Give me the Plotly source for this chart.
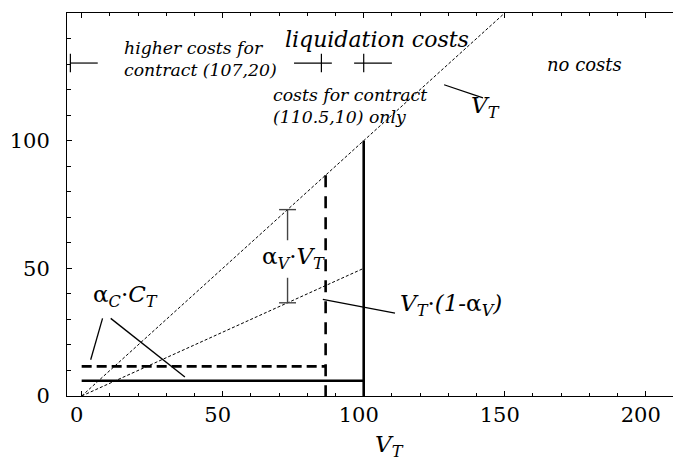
import plotly.graph_objects as go

# ---- data (value units) ----
vt_x = [0, 150]            # V_T line (45 degrees)
vt_y = [0, 150]
alpha_v = 0.5              # V_T*(1-alpha_V) line
lower_x = [0, 100]
lower_y = [x * (1 - alpha_v) for x in lower_x]

solid_threshold = 100      # contract (110.5,10)
solid_cost = 6
dashed_threshold = 86.5    # contract (107,20)
dashed_cost = 11.6

bracket_x = 73             # alpha_V * V_T bracket
bracket_gap = [61, 46.3]   # gap left for the label
cap_half = 3

region_y = 130.4
region_ticks = [-4, 85, 100]
region_segments = [(-4, 5.7), (75.3, 88.7), (96.6, 110)]

x_ticks = [0, 50, 100, 150, 200]
y_ticks = [0, 50, 100]

# leader lines (x0, y0, x1, y1)
leaders = [
    (128.5, 121.9, 142.3, 116.8),   # V_T
    (85.5, 37.8, 111.1, 32.5),      # V_T*(1-alpha_V)
    (7.4, 30.4, 3.2, 14.2),         # alpha_C*C_T -> dashed
    (10.3, 30.4, 36.6, 7.4),        # alpha_C*C_T -> solid
]

FONT = "DejaVu Serif"
fig = go.Figure()

dot = dict(color="black", width=1, dash="3px,2px")
fig.add_trace(go.Scatter(x=vt_x, y=vt_y, mode="lines", line=dot))
fig.add_trace(go.Scatter(x=lower_x, y=lower_y, mode="lines", line=dot))

# solid contract
fig.add_trace(go.Scatter(x=[0, solid_threshold], y=[solid_cost, solid_cost],
                         mode="lines", line=dict(color="black", width=2.6)))
fig.add_trace(go.Scatter(x=[solid_threshold, solid_threshold],
                         y=[0, solid_threshold], mode="lines",
                         line=dict(color="black", width=2.6)))
# dashed contract
fig.add_trace(go.Scatter(x=[0, dashed_threshold], y=[dashed_cost, dashed_cost],
                         mode="lines", line=dict(color="black", width=2.6, dash="10px,5px")))
fig.add_trace(go.Scatter(x=[dashed_threshold, dashed_threshold], y=[dashed_threshold, 0],
                         mode="lines", line=dict(color="black", width=2.6, dash="12px,9px")))

# bracket alpha_V * V_T
btop = bracket_x
bbot = bracket_x * (1 - alpha_v)
fig.add_trace(go.Scatter(
    x=[bracket_x, bracket_x, None, bracket_x, bracket_x, None,
       bracket_x - cap_half, bracket_x + cap_half, None,
       bracket_x - cap_half, bracket_x + cap_half],
    y=[btop, bracket_gap[0], None, bracket_gap[1], bbot, None,
       btop, btop, None, bbot, bbot],
    mode="lines", line=dict(color="#444", width=1.4)))

# region bar
rx, ry = [], []
for a, b in region_segments:
    rx += [a, b, None]
    ry += [region_y, region_y, None]
for t in region_ticks:
    rx += [t, t, None]
    ry += [region_y - 3.6, region_y + 3.6, None]
fig.add_trace(go.Scatter(x=rx, y=ry, mode="lines", line=dict(color="black", width=1.2)))

for x0, y0, x1, y1 in leaders:
    fig.add_shape(type="line", x0=x0, y0=y0, x1=x1, y1=y1, xref="x", yref="y",
                  line=dict(color="black", width=1.3))

def ann(text, x, y, size, xanchor="center", yanchor="middle", align="center", **kw):
    fig.add_annotation(text=text, x=x, y=y, showarrow=False, xanchor=xanchor,
                       yanchor=yanchor, align=align,
                       font=dict(family=FONT, size=size, color="black"), **kw)

ann("<i>higher costs for<br>contract (107,20)</i>", 14.4, 131.8, 17.3, xanchor="left", align="left")
ann("<i>liquidation costs</i>", 104.7, 139.8, 22)
ann("<i>costs for contract<br>(110.5,10) only</i>", 67.2, 113.7, 17.3, xanchor="left", align="left")
ann("<i>no costs</i>", 178.4, 129.8, 18)
ann("<i>V</i><sub><i>T</i></sub>", 137.5, 113.0, 23, xanchor="left")
ann("α<sub><i>V</i></sub>·<i>V</i><sub><i>T</i></sub>", 75.0, 54.0, 23)
ann("α<sub><i>C</i></sub>·<i>C</i><sub><i>T</i></sub>", 15.7, 39.2, 23)
ann("<i>V</i><sub><i>T</i></sub>·<i>(1-</i>α<sub><i>V</i></sub><i>)</i>", 112.0, 35.6, 23, xanchor="left")
# x-axis title
fig.add_annotation(text="<i>V</i><sub><i>T</i></sub>", x=109.0, y=-0.13, xref="x", yref="paper",
                   showarrow=False, xanchor="center", yanchor="middle",
                   font=dict(family=FONT, size=23, color="black"))

axis_common = dict(showgrid=False, zeroline=False, showline=True, linecolor="black",
                   linewidth=1, ticks="inside", tickcolor="black", tickwidth=1,
                   tickfont=dict(family=FONT, size=21, color="black"))
fig.update_xaxes(range=[-5.2, 212.5], tickmode="array", tickvals=x_ticks, ticklen=5,
                 mirror="ticks", ticklabelshift=-5,
                 minor=dict(dtick=10, tick0=0, ticks="inside", ticklen=3,
                            tickcolor="black", showgrid=False),
                 **axis_common)
fig.update_yaxes(range=[0, 150], tickmode="array", tickvals=y_ticks, ticklen=5,
                 ticklabelstandoff=12,
                 minor=dict(dtick=10, tick0=0, ticks="inside", ticklen=4,
                            tickcolor="black", showgrid=False),
                 **axis_common)
fig.update_layout(width=673, height=449, margin=dict(l=59, r=0, t=5, b=61),
                  plot_bgcolor="white", paper_bgcolor="white", showlegend=False,
                  hovermode=False, font=dict(family=FONT))
fig.write_html("out.html")
